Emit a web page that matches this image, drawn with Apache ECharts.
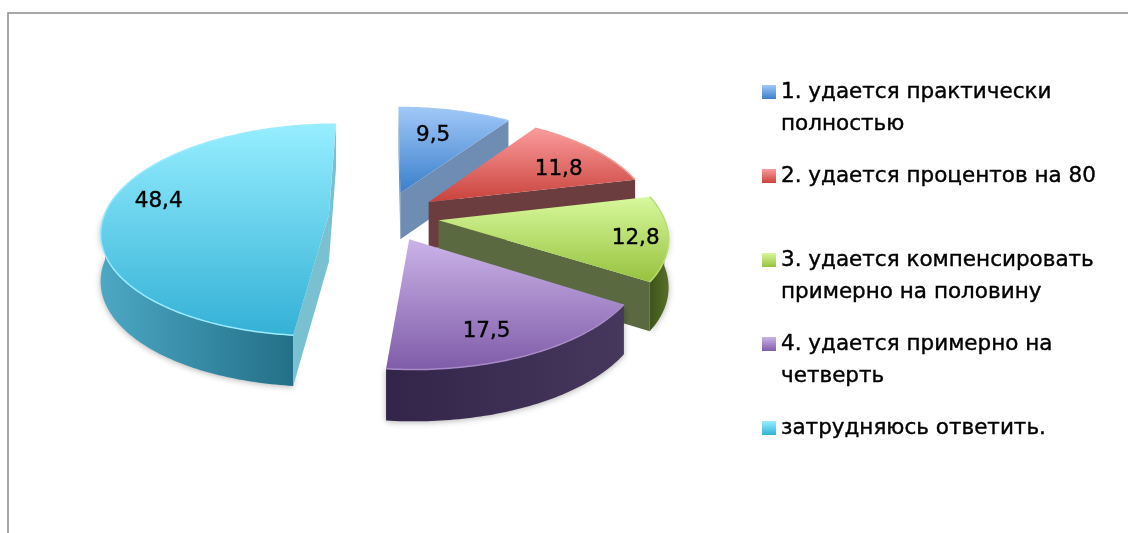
<!DOCTYPE html>
<html><head><meta charset="utf-8">
<script src="https://cdn.jsdelivr.net/npm/echarts@6/dist/echarts.min.js"></script>
<style>html,body{margin:0;padding:0;background:#fff}#c{width:1128px;height:533px}</style>
</head><body><div id="c"></div>
<script>
const categories = ["1. удается практически\nполностью","2. удается процентов на 80","3. удается компенсировать\nпримерно на половину","4. удается примерно на\nчетверть","затрудняюсь ответить."];
const seriesValues = [9.5,11.8,12.8,17.5,48.4];
const valueLabels = ["9,5","11,8","12,8","17,5","48,4"];

const faceColors = [["#a0c8f8","#3a7fcb"],["#fb9c9c","#c9423c"],["#d8f89c","#96c23e"],["#cbb3e8","#7f5ca8"],["#96eeff","#34b1d6"]];
const edgeColors = ["#a0c6f2","#f09a98","#b9dc78","#a88bc8","#9becff"];
const radialColors = ["#6f8cb3","#6b3d3e","#5a693f","#3d2f52","#79c0d0"];
const wallColors = [["#6f8cb3","#6f8cb3"],["#6b3d3e","#6b3d3e"],["#3f5418","#55702a"],["#33254a","#46375c"],["#4ca8c4","#236f88"]];
const labelRadius = [0.72,0.70,0.86,0.80,0.76];
const labelNudge = [[-8,4],[12,5],[0,3],[-16,3],[-1,-9]];
const explodes = [0.24,0.24,0.24,0.24,0.25];

const FONT = '"DejaVu Sans"';
const C = {x:385,y:216}, RX=225, RY=104, K=0.145, DEPTH=47;
const total = seriesValues.reduce((a,b)=>a+b,0);
function proj(ux,uy,down){
  const p = 1/(1-K*uy);
  return [C.x+RX*ux*p, C.y+RY*uy*p+(down?DEPTH*Math.sqrt(p):0)];
}
function lin(c,horizontal){
  return {type:'linear',x:0,y:0,x2:horizontal?1:0,y2:horizontal?0:1,colorStops:[{offset:0,color:c[0]},{offset:1,color:c[1]}]};
}
function faceShows(tip,q,m){
  const dx=q[0]-tip[0];
  if(Math.abs(dx)<1) return false;
  const yOnEdge=tip[1]+(q[1]-tip[1])*(m[0]-tip[0])/dx;
  return m[1]<yOnEdge;
}
function slice(i){
  return function(params,api){
    const v = api.value(0);
    let before=0; for(let j=0;j<i;j++) before+=seriesValues[j];
    const a0=before/total*2*Math.PI, a1=(before+v)/total*2*Math.PI, mid=(a0+a1)/2;
    const e=explodes[i], ox=e*Math.sin(mid), oy=-e*Math.cos(mid);
    const P=(r,a,d)=>proj(ox+r*Math.sin(a),oy-r*Math.cos(a),d);
    const n=Math.max(6,Math.round((a1-a0)*60));
    const top=[],wt=[],wb=[];
    for(let s=0;s<=n;s++){
      const a=a0+(a1-a0)*s/n; top.push(P(1,a,false));
      if(Math.cos(a)<0.02){wt.push(P(1,a,false));wb.push(P(1,a,true));}
    }
    const tip=P(0,0,false),tipB=P(0,0,true),inner=P(0.5,mid,false);
    const poly=(pts,fill,extra)=>({type:'polygon',shape:{points:pts},style:Object.assign({fill:fill},extra||{})});
    const kids=[];
    if(wt.length>1) kids.push(poly(wt.concat(wb.slice().reverse()),lin(wallColors[i],true),{shadowBlur:6,shadowColor:'rgba(0,0,0,0.3)',shadowOffsetY:1}));
    if(faceShows(tip,top[0],inner)) kids.push(poly([tip,top[0],P(1,a0,true),tipB],radialColors[i]));
    if(faceShows(tip,top[n],inner)) kids.push(poly([tip,top[n],P(1,a1,true),tipB],radialColors[i]));
    kids.push(
      poly([tip].concat(top),lin(faceColors[i])),
      {type:'polyline',shape:{points:top},style:{fill:null,stroke:edgeColors[i],lineWidth:1.5}}
    );
    const lp=P(labelRadius[i],mid,false);
    kids.push({type:'text',x:lp[0]+labelNudge[i][0],y:lp[1]+labelNudge[i][1],style:{text:valueLabels[i],font:'21.5px '+FONT,fill:'#000',stroke:'#000',lineWidth:0.4,align:'center',verticalAlign:'middle'}});
    return {type:'group',children:kids};
  };
}
const series = categories.map((name,i)=>({
  type:'custom', name:name, coordinateSystem:'none', silent:true, clip:false,
  data:[[seriesValues[i]]], renderItem:slice(i), z:2+i,
  itemStyle:{color:lin(faceColors[i])}, animation:false
}));
const chart = echarts.init(document.getElementById('c'),null,{renderer:'canvas'});
chart.setOption({
  animation:false, backgroundColor:'#fff',
  legend:{
    orient:'vertical', left:757, top:39, itemWidth:14, itemHeight:14, itemGap:-12,
    icon:'rect', selectedMode:false, data:categories,
    formatter:n=>'\n'+n+(n.indexOf('\n')<0?'\n ':''),
    textStyle:{fontFamily:FONT,fontSize:21.5,color:'#000',lineHeight:32,textBorderColor:'#000',textBorderWidth:0.4}
  },
  graphic:[
    {type:'polyline',shape:{points:[[8,533],[8,13],[1128,13]]},style:{fill:null,stroke:'#8c8c8c',lineWidth:1.5},z:0}
  ],
  series:series
});
</script></body></html>
